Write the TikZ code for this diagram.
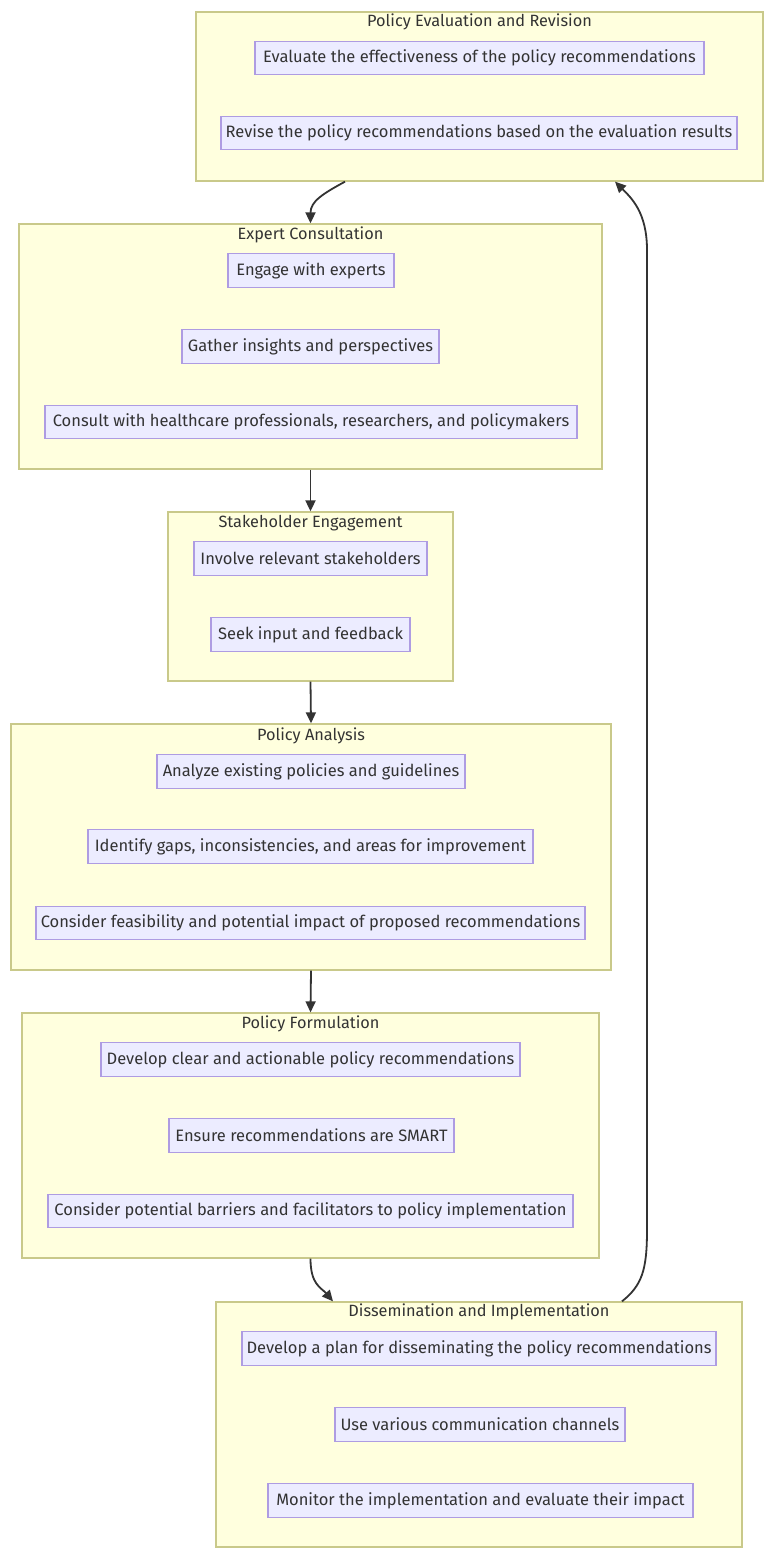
\documentclass[tikz,border=0pt]{standalone}
\usepackage{fontspec}
\setmainfont{Fira Sans}
\usetikzlibrary{arrows.meta}
\definecolor{clfill}{HTML}{FFFFDE}
\definecolor{cldraw}{HTML}{C9C98A}
\definecolor{ndfill}{HTML}{ECECFF}
\definecolor{nddraw}{HTML}{AE9CE2}
\definecolor{txt}{HTML}{333333}
\definecolor{edge}{HTML}{333333}
\tikzset{
  cluster/.style={draw=cldraw, fill=clfill, line width=1.3pt, rectangle, inner sep=0pt},
  ctitle/.style={text=txt, font=\fontsize{16.3}{19}\selectfont, inner sep=0pt},
  stepbox/.style={draw=nddraw, fill=ndfill, line width=1.3pt, rectangle, inner sep=0pt,
    minimum height=33.5pt, text=txt, font=\fontsize{16.5}{19}\selectfont},
  flow/.style={draw=edge, line width=1.8pt, -{Triangle[length=11pt,width=10pt]}}
}
\begin{document}
\begin{tikzpicture}[x=1pt,y=-1pt]
\useasboundingbox (0,0) rectangle (774,1558);
\fill[white] (0,0) rectangle (774,1558);

% Cluster 1
\node[cluster, minimum width=567pt, minimum height=169pt] (c1) at (479.5,96.5) {};
\node[ctitle] (t1) at (479.5,22) {Policy Evaluation and Revision};
\node[stepbox, minimum width=449pt] (n11) at (479.5,58) {Evaluate the effectiveness of the policy recommendations};
\node[stepbox, minimum width=516pt] (n12) at (479,133) {Revise the policy recommendations based on the evaluation results};

% Cluster 2
\node[cluster, minimum width=583pt, minimum height=245pt] (c2) at (310.5,346.5) {};
\node[ctitle] (t2) at (310.5,235) {Expert Consultation};
\node[stepbox, minimum width=166pt] (n21) at (311,270.5) {Engage with experts};
\node[stepbox, minimum width=257pt] (n22) at (310.5,346.5) {Gather insights and perspectives};
\node[stepbox, minimum width=532pt] (n23) at (311,422) {Consult with healthcare professionals, researchers, and policymakers};

% Cluster 3
\node[cluster, minimum width=285pt, minimum height=169pt] (c3) at (310.5,596.5) {};
\node[ctitle] (t3) at (310.5,523) {Stakeholder Engagement};
\node[stepbox, minimum width=233pt] (n31) at (310.5,558.5) {Involve relevant stakeholders};
\node[stepbox, minimum width=199pt] (n32) at (310.5,634.5) {Seek input and feedback};

% Cluster 4
\node[cluster, minimum width=600pt, minimum height=246pt] (c4) at (311,847) {};
\node[ctitle] (t4) at (311,736) {Policy Analysis};
\node[stepbox, minimum width=308pt] (n41) at (311,771.5) {Analyze existing policies and guidelines};
\node[stepbox, minimum width=445pt] (n42) at (310.5,846.5) {Identify gaps, inconsistencies, and areas for improvement};
\node[stepbox, minimum width=549pt] (n43) at (310.5,923) {Consider feasibility and potential impact of proposed recommendations};

% Cluster 5
\node[cluster, minimum width=577pt, minimum height=245pt] (c5) at (310.5,1135.5) {};
\node[ctitle] (t5) at (310.5,1024) {Policy Formulation};
\node[stepbox, minimum width=419pt] (n51) at (310.5,1059.5) {Develop clear and actionable policy recommendations};
\node[stepbox, minimum width=285pt] (n52) at (311.5,1135.5) {Ensure recommendations are SMART};
\node[stepbox, minimum width=525pt] (n53) at (310.5,1211) {Consider potential barriers and facilitators to policy implementation};

% Cluster 6
\node[cluster, minimum width=526pt, minimum height=245pt] (c6) at (479,1424.5) {};
\node[ctitle] (t6) at (479,1312) {Dissemination and Implementation};
\node[stepbox, minimum width=474pt] (n61) at (479,1348.5) {Develop a plan for disseminating the policy recommendations};
\node[stepbox, minimum width=290pt] (n62) at (480,1424.5) {Use various communication channels};
\node[stepbox, minimum width=425pt] (n63) at (480.5,1500.5) {Monitor the implementation and evaluate their impact};

% Connectors
\draw[flow] ([xshift=-134.5pt]c1.south) .. controls +(-22,12) and +(0,-22) .. (c2.north);
\draw[flow] (c2.south) -- (c3.north);
\draw[flow] (c3.south) -- (c4.north);
\draw[flow] (c4.south) -- (c5.north);
\draw[flow] (c5.south) .. controls +(0,26) and +(-12,-14) .. ([xshift=-146pt]c6.north);
\draw[flow] ([xshift=143pt]c6.north) .. controls +(20,-16) and +(0,40) .. (647,1230)
  -- (647,250) .. controls +(0,-38) and +(16,16) .. ([xshift=135.5pt]c1.south);
\end{tikzpicture}
\end{document}
